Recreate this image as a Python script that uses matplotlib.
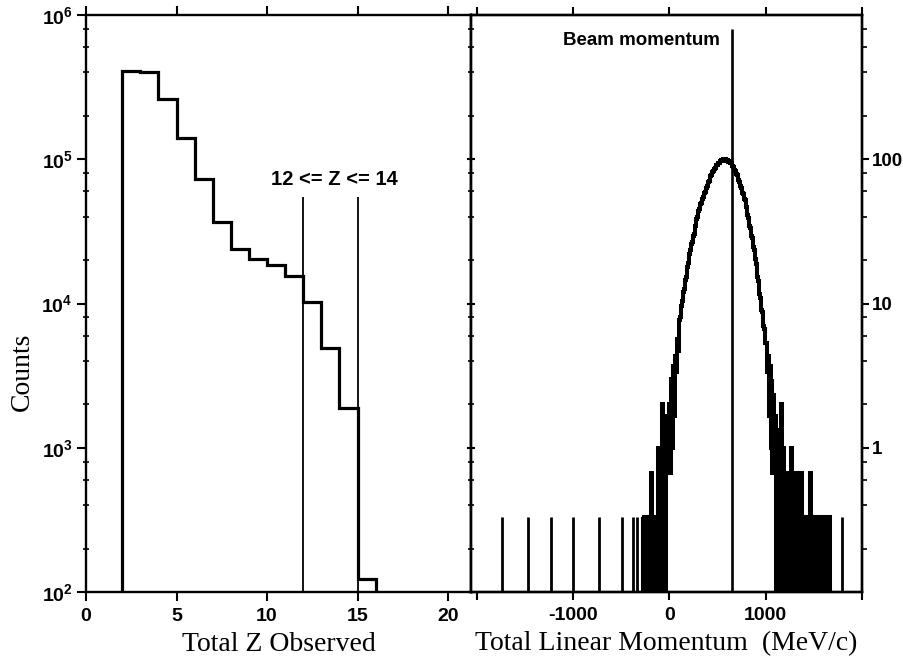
import numpy as np
import matplotlib.pyplot as plt
from matplotlib.ticker import FixedLocator, FixedFormatter, LogLocator

plt.rcParams['font.family'] = 'Liberation Sans'
plt.rcParams['font.weight'] = 'bold'
plt.rcParams['mathtext.default'] = 'regular'
plt.rcParams['axes.unicode_minus'] = False
plt.rcParams['axes.linewidth'] = 1.7

# left panel: counts per total Z bin (unit bins starting at Z = 2)
z_edges = np.arange(2, 17)
z_counts = [4.1e5, 4.05e5, 2.6e5, 1.41e5, 7.3e4, 3.67e4, 2.37e4, 2.02e4,
            1.84e4, 1.55e4, 1.03e4, 4.9e3, 1.9e3, 123]
z_window = [12, 15]
z_window_top = 5.5e4
z_yticks = [1e2, 1e3, 1e4, 1e5, 1e6]
z_ylabels = [r'$\mathdefault{10^{2}}$', r'$\mathdefault{10^{3}}$', r'$\mathdefault{10^{4}}$',
             r'$\mathdefault{10^{5}}$', r'$\mathdefault{10^{6}}$']
z_xticks = [0, 5, 10, 15, 20]

# right panel: events per 10 MeV/c bin, starting at -300 MeV/c
p_start = -300
p_width = 10
p_counts = [
    0, 0, 1, 0, 1, 1, 0, 1, 0, 1,            # -300 .. -210
    0, 2, 1, 0, 1, 0, 1, 1, 3, 0,            # -200 .. -110
    3, 0, 6, 1, 3, 0, 3, 5, 2, 6,            # -100 .. -10
    6, 2, 9, 3, 11, 5, 13, 10, 17, 14,       # 0 .. 90
    23, 24, 29, 31, 36, 38, 44, 46, 54, 57,  # 100 .. 190
    66, 70, 78, 80, 88, 91, 101, 104, 115, 119,
    131, 136, 147, 149, 160, 163, 175, 179, 191, 195,
    208, 213, 228, 232, 245, 247, 258, 259, 272, 274,
    283, 281, 290, 287, 296, 293, 302, 298, 300, 292,
    295, 288, 291, 284, 284, 270, 266, 253, 250, 237,
    232, 216, 210, 195, 190, 176, 172, 158, 156, 143,
    139, 123, 118, 104, 100, 88, 85, 74, 71, 61,
    56, 46, 43, 35, 33, 27, 26, 21, 20, 16,  # 900 .. 990
    16, 10, 13, 5, 11, 3, 9, 2, 7, 2,        # 1000 .. 1090
    5, 0, 4, 3, 4, 0, 6, 2, 3, 0,            # 1100 .. 1190
    2, 0, 1, 2, 0, 2, 3, 1, 0, 2,
    1, 2, 0, 1, 2, 0, 1, 2, 1, 0,
    1, 0, 1, 1, 0, 1, 2, 0, 1, 0,
    0, 1, 0, 0, 1, 0, 1, 1, 0, 1,
    0, 1, 1, 0, 1, 0, 1, 0, 0, 0,            # 1600 .. 1690
]
# isolated single events outside the binned range
far_events = [-1743, -1467, -1234, -999, -729, -497, -376, -341, 1789]
event_weight = 1 / 3
beam_p = 646
beam_top = 800
p_xticks = [-2000, -1000, 0, 1000, 2000]
p_xlabels = ['', '-1000', '0', '1000', '']
p_yticks = [1, 10, 100]
p_ylabels = ['1', '10', '100']

p_edges = p_start + p_width * np.arange(len(p_counts) + 1)
p_vals = np.where(np.array(p_counts) > 0, np.array(p_counts) * event_weight, 1e-3)

fig = plt.figure(figsize=(9.04, 6.64), dpi=100)
axz = fig.add_axes([86 / 904, 72 / 664, 385 / 904, 577 / 664])
axp = fig.add_axes([471 / 904, 72 / 664, 391 / 904, 577 / 664])

# ---- left panel
axz.stairs(z_counts, z_edges, baseline=1, color='black', lw=2.3)
axz.vlines(z_window, 100, z_window_top, color='black', lw=1.3)
axz.text(13.7, 7.2e4, '12 <= Z <= 14', ha='center', va='center', fontsize=14.5)
axz.set_yscale('log')
axz.set_ylim(1e2, 1e6)
axz.set_xlim(0, 21.27)
axz.set_xticks(z_xticks)
axz.yaxis.set_major_locator(FixedLocator(z_yticks))
axz.yaxis.set_major_formatter(FixedFormatter(z_ylabels))
axz.yaxis.set_minor_locator(LogLocator(10, subs=(2, 4, 6, 8), numticks=20))
axz.tick_params(axis='x', direction='out', length=6.5, width=1.5, top=True,
                labelsize=14, pad=5)
axz.tick_params(axis='y', which='major', direction='out', length=6.5, width=1.5,
                right=False, labelsize=14, pad=3)
axz.tick_params(axis='y', which='minor', direction='inout', length=4, width=1.2,
                right=False)
axz.set_xlabel('Total Z Observed', family='Liberation Serif', weight='normal',
               size=20, labelpad=5)
fig.text(22 / 904, 1 - 372 / 664, 'Counts', rotation=90, ha='center', va='center',
         family='Liberation Serif', weight='normal', size=20)

# ---- right panel
axp.stairs(p_vals, p_edges, baseline=1e-3, color='black', lw=2.9)
axp.vlines(far_events, 1e-3, event_weight, color='black', lw=2)
axp.vlines(beam_p, 0.1, beam_top, color='black', lw=1.9)
axp.text(525, 670, 'Beam momentum', ha='right', va='center', fontsize=13.5)
axp.set_yscale('log')
axp.set_ylim(0.1, 1000)
axp.set_xlim(-2062, 2000)
axp.xaxis.set_major_locator(FixedLocator(p_xticks))
axp.xaxis.set_major_formatter(FixedFormatter(p_xlabels))
axp.yaxis.set_major_locator(FixedLocator([0.1] + p_yticks + [1000]))
axp.yaxis.set_minor_locator(LogLocator(10, subs=(2, 4, 6, 8), numticks=20))
axp.tick_params(axis='x', direction='out', length=6, width=1.5, top=True,
                labelsize=14, pad=5)
axp.tick_params(axis='y', which='major', direction='inout', length=6, width=1.5,
                left=True, right=False, labelleft=False)
axp.tick_params(axis='y', which='minor', direction='inout', length=4, width=1.2,
                left=True, right=False)
axp.set_xlabel('Total Linear Momentum  (MeV/c)', family='Liberation Serif',
               weight='normal', size=20, labelpad=5)

axr = axp.twinx()
axr.set_yscale('log')
axr.set_ylim(0.1, 1000)
axr.yaxis.set_major_locator(FixedLocator(p_yticks))
axr.yaxis.set_major_formatter(FixedFormatter(p_ylabels))
axr.yaxis.set_minor_locator(LogLocator(10, subs=(2, 4, 6, 8), numticks=20))
axr.tick_params(axis='y', which='major', direction='out', length=5, width=1.5,
                labelsize=13.5, pad=2)
axr.tick_params(axis='y', which='minor', direction='out', length=3.5, width=1.2)

fig.savefig('out.png', dpi=100)
